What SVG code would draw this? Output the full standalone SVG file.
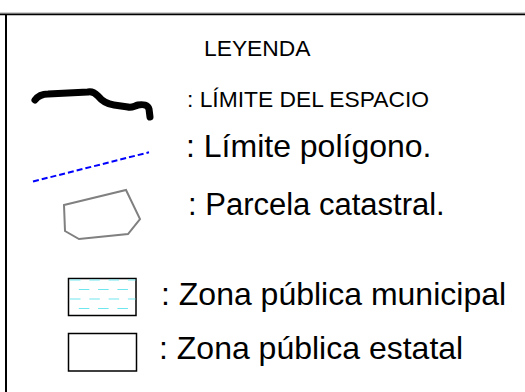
<svg xmlns="http://www.w3.org/2000/svg" width="525" height="392" viewBox="0 0 525 392">
<style>
  .t { font-family: "Liberation Sans", Arial, sans-serif; fill: #000; }
  .s { font-size: 22.8px; }
  .b { font-size: 32px; }
  .cy { stroke: #6ee6ee; stroke-width: 1.1; stroke-dasharray: 10.5 8.8; fill: none; }
  .box { fill: #fff; stroke: #000; stroke-width: 1.5; }
</style>
<rect width="525" height="392" fill="#fff"/>
<g id="frame" fill="none">
  <line x1="0" y1="12.8" x2="525" y2="12.8" stroke="#aaa" stroke-width="0.8"/>
  <line x1="0" y1="14.3" x2="525" y2="14.3" stroke="#000" stroke-width="1.8"/>
  <line x1="6" y1="14" x2="6" y2="392" stroke="#000" stroke-width="2"/>
</g>
<g id="title">
  <text class="t s" x="204" y="56">LEYENDA</text>
</g>
<g id="limite-espacio">
  <path d="M35,100 C38,96 42,94 48,94 L88,92 C92,91 95,93 98,96 C102,101 106,104 114,105 L128,107 C132,108 134,106 138,105 C143,104 148,105 149,109 L150,117" fill="none" stroke="#000" stroke-width="7" stroke-linecap="round" stroke-linejoin="round"/>
  <text class="t s" x="187" y="107">: LÍMITE DEL ESPACIO</text>
</g>
<g id="limite-poligono">
  <line x1="33" y1="181.5" x2="149" y2="152.3" stroke="#0000ff" stroke-width="2" stroke-dasharray="6 3"/>
  <text class="t b" x="186" y="157">: Límite polígono.</text>
</g>
<g id="parcela">
  <polygon points="64,205 126,190 140,219 128,234 79,239 65,231" fill="none" stroke="#808080" stroke-width="2"/>
  <text class="t b" x="188" y="215" style="font-size:31px">: Parcela catastral.</text>
</g>
<g id="zona-municipal">
  <rect class="box" x="68.5" y="278.5" width="67.5" height="37"/>
  <line class="cy" x1="70" y1="280" x2="135.5" y2="280"/>
  <line class="cy" x1="70" y1="289.5" x2="135.5" y2="289.5" stroke-dashoffset="-8.8"/>
  <line class="cy" x1="70" y1="299" x2="135.5" y2="299"/>
  <line class="cy" x1="70" y1="308.5" x2="135.5" y2="308.5" stroke-dashoffset="-8.8"/>
  <text class="t b" x="161" y="305">: Zona pública municipal</text>
</g>
<g id="zona-estatal">
  <rect class="box" x="68.5" y="333.5" width="68" height="37.5"/>
  <text class="t b" x="159" y="359">: Zona pública estatal</text>
</g>
</svg>
